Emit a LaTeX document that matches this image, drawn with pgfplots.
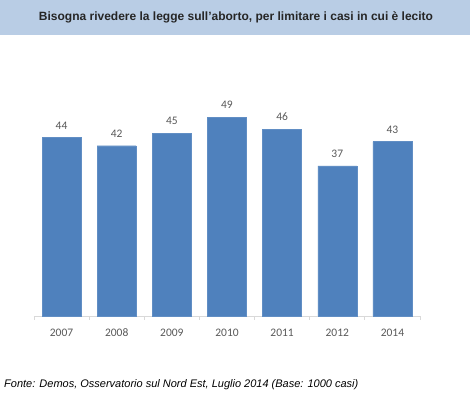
\documentclass[border=0pt]{standalone}
\usepackage{pgfplots}
\pgfplotsset{compat=1.18}
\usepackage{fontspec}
\setmainfont{Liberation Sans}
\newfontfamily\calibri{Carlito}
\definecolor{barblue}{HTML}{4F81BD}
\definecolor{titlebg}{HTML}{B9CDE5}
\definecolor{lblgray}{HTML}{595959}
\definecolor{axgray}{HTML}{D9D9D9}
\begin{document}
\begin{tikzpicture}[x=1pt,y=1pt]
\fill[white] (0,0) rectangle (475,397);
\fill[titlebg] (0,362) rectangle (470,397);
\node[font=\fontsize{12}{14}\selectfont\bfseries, text=black!85] at (236,380) {Bisogna rivedere la legge sull\char"0027 aborto, per limitare i casi in cui è lecito};
\node[anchor=west, font=\fontsize{11}{13}\selectfont\itshape, inner sep=0pt] at (4,12) {Fonte: Demos, Osservatorio sul Nord Est, Luglio 2014 (Base: 1000 casi)};
\begin{axis}[
  at={(34pt,81pt)}, anchor=south west,
  scale only axis, width=386pt, height=223pt,
  xmin=-0.5, xmax=6.5, ymin=0, ymax=55,
  /pgf/number format/assume math mode=true,
  axis y line=none,
  axis x line*=bottom,
  x axis line style={draw=axgray, line width=0.8pt, -},
  xtick={0,...,6},
  xticklabels={2007,2008,2009,2010,2011,2012,2014},
  major x tick style={draw=none},
  minor xtick={-0.5,0.5,...,6.5},
  minor x tick style={draw=axgray, line width=0.8pt},
  minor tick length=4pt,
  tick align=outside,
  x tick label style={font=\calibri\fontsize{11.5}{13}\selectfont, text=lblgray, text height=8pt, text depth=1pt, yshift=-5pt},
  ybar, bar width=39pt,
  nodes near coords,
  every node near coord/.append style={font=\calibri\fontsize{11.5}{13}\selectfont, text=lblgray, yshift=5pt},
  clip=false,
]
\addplot[fill=barblue, draw=barblue!90!white] coordinates {(0,44) (1,42) (2,45) (3,49) (4,46) (5,37) (6,43)};
\end{axis}
\end{tikzpicture}
\end{document}
